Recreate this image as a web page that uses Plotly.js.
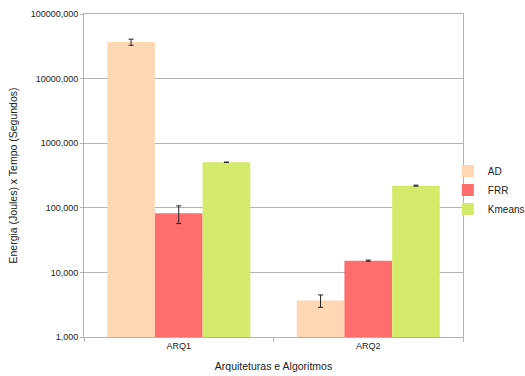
<!DOCTYPE html>
<html>
<head>
<meta charset="utf-8">
<script src="https://cdn.plot.ly/plotly-3.0.1.min.js"></script>
<style>html,body{margin:0;padding:0;background:#fff;}#chart{width:525px;height:376px;}</style>
</head>
<body>
<div id="chart"></div>
<script>
const categories = ["ARQ1", "ARQ2"];
const seriesNames = ["AD", "FRR", "Kmeans"];
const adValues = [3.68e7, 3.68e3];
const adErrors = [4.0e6, 8.0e2];
const frrValues = [8.2e4, 1.52e4];
const frrErrors = [2.5e4, 3.0e2];
const kmeansValues = [5.07e5, 2.2e5];
const kmeansErrors = [4.0e3, 4.0e3];
const tickValues = [1e3, 1e4, 1e5, 1e6, 1e7, 1e8];
const tickLabels = ["1,000", "10,000", "100,000", "1000,000", "10000,000", "100000,000"];
const colors = ["#ffd8b3", "#ff6d6d", "#d4ea6b"];

const values = [adValues, frrValues, kmeansValues];
const errors = [adErrors, frrErrors, kmeansErrors];

const traces = seriesNames.map((name, i) => ({
  type: "bar",
  name: name,
  x: categories,
  y: values[i],
  marker: {color: colors[i]},
  error_y: {type: "data", array: errors[i], visible: true, color: "#222", thickness: 1, width: 2.5}
}));

const layout = {
  width: 525, height: 376,
  margin: {l: 84, r: 62, t: 14, b: 39, autoexpand: false},
  paper_bgcolor: "#fff", plot_bgcolor: "#fff",
  font: {family: "Liberation Sans, Arial, sans-serif", color: "#222"},
  barmode: "group",
  bargap: 0.245,
  bargroupgap: 0,
  showlegend: true,
  legend: {x: 0.96, xanchor: "left", y: 0.455, yanchor: "middle", font: {size: 10, color: "#222"}, bgcolor: "rgba(0,0,0,0)", tracegroupgap: 0},
  xaxis: {
    type: "category",
    showline: true, mirror: true, linecolor: "#b3b3b3", linewidth: 1,
    ticks: "outside", tickson: "boundaries", ticklen: 4, tickcolor: "#b3b3b3",
    tickfont: {size: 9, color: "#222"},
    title: {text: "Arquiteturas e Algoritmos", font: {size: 10.5, color: "#222"}, standoff: 12},
    automargin: false
  },
  yaxis: {
    type: "log",
    range: [3, 8],
    tickvals: tickValues, ticktext: tickLabels,
    showline: true, mirror: true, linecolor: "#b3b3b3", linewidth: 1,
    showgrid: true, gridcolor: "#b3b3b3", gridwidth: 1,
    ticks: "outside", ticklen: 3, tickcolor: "#b3b3b3",
    tickfont: {size: 9, color: "#222"},
    title: {text: "Energia (Joules) x Tempo (Segundos)", font: {size: 10.5, color: "#222"}, standoff: 10},
    automargin: false,
    zeroline: false
  }
};

Plotly.newPlot("chart", traces, layout, {displayModeBar: false, staticPlot: true});
</script>
</body>
</html>
